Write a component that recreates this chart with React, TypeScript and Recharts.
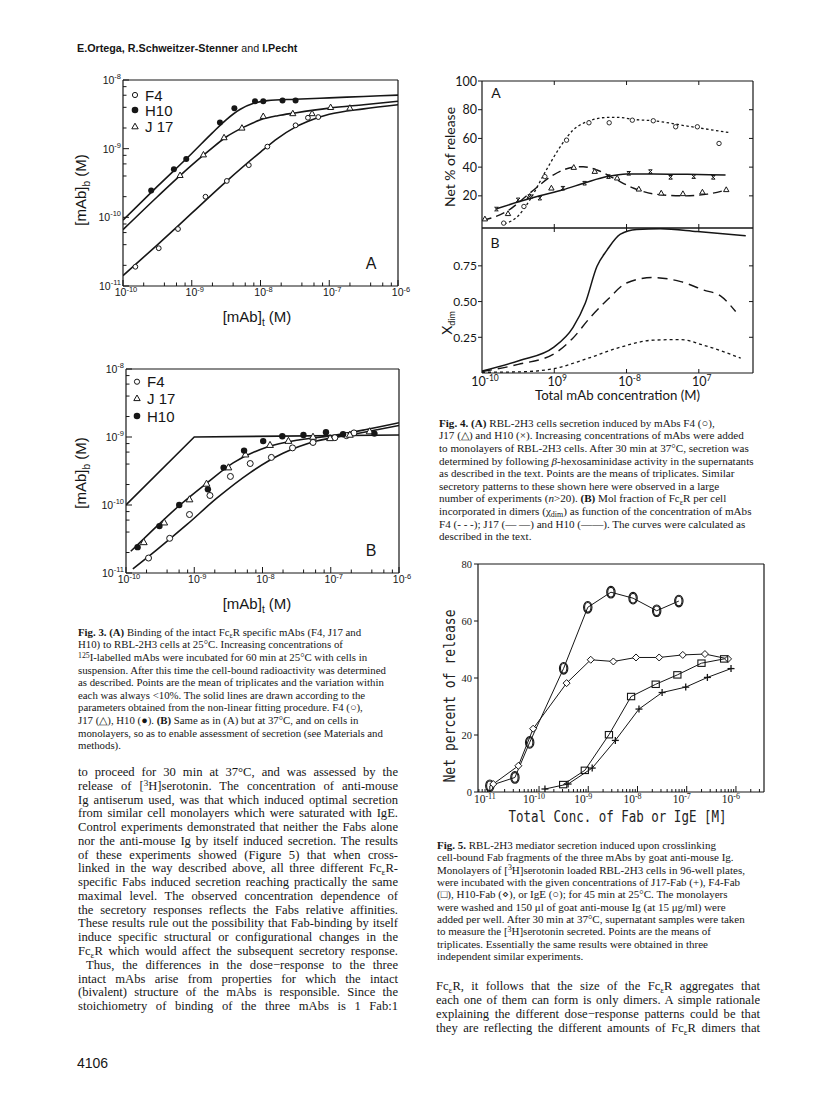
import React from 'react';
import { ComposedChart, Line, Scatter, XAxis, YAxis } from 'recharts';

type P = { x: number; y: number };

// ---------------- Fig. 3A (values are log10 of molar concentrations) ----------------
const f3aF4Pts: P[] = [
  { x: -9.82, y: -10.72 }, { x: -9.48, y: -10.45 }, { x: -9.2, y: -10.17 }, { x: -8.8, y: -9.7 },
  { x: -8.49, y: -9.47 }, { x: -8.17, y: -9.24 }, { x: -7.9, y: -8.97 }, { x: -7.49, y: -8.66 },
  { x: -7.31, y: -8.55 }, { x: -7.16, y: -8.54 },
];
const f3aH10Pts: P[] = [
  { x: -9.59, y: -9.61 }, { x: -9.26, y: -9.3 }, { x: -9.08, y: -9.15 }, { x: -8.59, y: -8.62 },
  { x: -8.38, y: -8.41 }, { x: -8.08, y: -8.31 }, { x: -7.96, y: -8.31 }, { x: -7.68, y: -8.3 },
  { x: -7.49, y: -8.3 },
];
const f3aJ17Pts: P[] = [
  { x: -9.17, y: -9.39 }, { x: -8.83, y: -9.09 }, { x: -8.53, y: -8.84 }, { x: -8.27, y: -8.7 },
  { x: -7.96, y: -8.53 }, { x: -7.53, y: -8.49 }, { x: -7.25, y: -8.49 }, { x: -6.98, y: -8.4 },
  { x: -6.7, y: -8.41 },
];
const f3aH10Fit: P[] = [
  { x: -10, y: -10.04 }, { x: -9.5, y: -9.55 }, { x: -9, y: -9.07 }, { x: -8.7, y: -8.77 },
  { x: -8.5, y: -8.58 }, { x: -8.3, y: -8.43 }, { x: -8.1, y: -8.34 }, { x: -7.9, y: -8.3 },
  { x: -7.5, y: -8.28 }, { x: -7, y: -8.26 }, { x: -6.5, y: -8.24 }, { x: -6, y: -8.22 },
];
const f3aJ17Fit: P[] = [
  { x: -10, y: -10.18 }, { x: -9.5, y: -9.7 }, { x: -9, y: -9.24 }, { x: -8.75, y: -9.03 },
  { x: -8.5, y: -8.83 }, { x: -8.25, y: -8.69 }, { x: -8, y: -8.58 }, { x: -7.75, y: -8.52 },
  { x: -7.5, y: -8.48 }, { x: -7, y: -8.41 }, { x: -6.5, y: -8.36 }, { x: -6, y: -8.31 },
];
const f3aF4Fit: P[] = [
  { x: -10, y: -10.85 }, { x: -9.5, y: -10.4 }, { x: -9, y: -9.94 }, { x: -8.5, y: -9.48 },
  { x: -8, y: -9.05 }, { x: -7.75, y: -8.85 }, { x: -7.5, y: -8.69 }, { x: -7.25, y: -8.58 },
  { x: -7, y: -8.5 }, { x: -6.5, y: -8.42 }, { x: -6, y: -8.36 },
];

// ---------------- Fig. 3B ----------------
const f3bF4Pts: P[] = [
  { x: -9.67, y: -10.78 }, { x: -9.36, y: -10.49 }, { x: -9.07, y: -10.14 }, { x: -8.77, y: -9.86 },
  { x: -8.47, y: -9.58 }, { x: -8.18, y: -9.39 }, { x: -7.87, y: -9.3 }, { x: -7.56, y: -9.16 },
  { x: -7.26, y: -9.08 }, { x: -6.94, y: -9.01 }, { x: -6.77, y: -8.98 }, { x: -6.66, y: -8.94 },
];
const f3bJ17Pts: P[] = [
  { x: -9.74, y: -10.55 }, { x: -9.44, y: -10.26 }, { x: -9.07, y: -9.92 }, { x: -8.82, y: -9.69 },
  { x: -8.5, y: -9.45 }, { x: -8.25, y: -9.26 }, { x: -7.89, y: -9.12 }, { x: -7.62, y: -9.06 },
  { x: -7.26, y: -9.0 }, { x: -7.01, y: -9.02 }, { x: -6.72, y: -8.97 }, { x: -6.43, y: -8.92 },
];
const f3bH10Pts: P[] = [
  { x: -9.83, y: -10.62 }, { x: -9.51, y: -10.31 }, { x: -9.22, y: -10.0 }, { x: -8.8, y: -9.77 },
  { x: -8.57, y: -9.45 }, { x: -8.27, y: -9.2 }, { x: -7.99, y: -9.06 }, { x: -7.71, y: -8.99 },
  { x: -7.4, y: -8.97 }, { x: -7.07, y: -8.93 }, { x: -6.82, y: -8.96 }, { x: -6.36, y: -8.95 },
];
const f3bLimit: P[] = [{ x: -10, y: -10 }, { x: -9, y: -9 }, { x: -6, y: -8.97 }];
const f3bJ17Fit: P[] = [
  { x: -9.93, y: -10.68 }, { x: -9.65, y: -10.41 }, { x: -9.21, y: -10.0 }, { x: -8.82, y: -9.68 },
  { x: -8.43, y: -9.38 }, { x: -7.94, y: -9.15 }, { x: -7.45, y: -9.04 }, { x: -6.97, y: -8.98 },
  { x: -6.48, y: -8.89 }, { x: -6, y: -8.79 },
];
const f3bF4Fit: P[] = [
  { x: -9.9, y: -10.94 }, { x: -9.55, y: -10.66 }, { x: -9.11, y: -10.29 }, { x: -8.67, y: -9.9 },
  { x: -8.19, y: -9.53 }, { x: -7.7, y: -9.24 }, { x: -7.21, y: -9.06 }, { x: -6.72, y: -8.97 },
  { x: -6, y: -8.83 },
];

// ---------------- Fig. 4A (x: log10 M, y: net % of release) ----------------
const f4aF4Pts: P[] = [
  { x: -9.7, y: 1.0 }, { x: -9.42, y: 12.6 }, { x: -9.13, y: 33.4 }, { x: -8.83, y: 58.8 },
  { x: -8.52, y: 70.9 }, { x: -8.24, y: 70.9 }, { x: -7.92, y: 72.7 }, { x: -7.63, y: 72.3 },
  { x: -7.32, y: 68.1 }, { x: -7.02, y: 68.1 }, { x: -6.72, y: 56.5 },
];
const f4aJ17Pts: P[] = [
  { x: -9.96, y: 3.8 }, { x: -9.64, y: 7.5 }, { x: -9.34, y: 19.5 }, { x: -9.04, y: 25.3 },
  { x: -8.73, y: 39.7 }, { x: -8.44, y: 36.9 }, { x: -8.13, y: 32.3 }, { x: -7.83, y: 24.6 },
  { x: -7.52, y: 21.8 }, { x: -7.22, y: 21.4 }, { x: -6.95, y: 22.5 }, { x: -6.62, y: 24.2 },
];
const f4aH10Pts: P[] = [
  { x: -9.8, y: 10.8 }, { x: -9.5, y: 17.2 }, { x: -9.34, y: 19.5 }, { x: -9.2, y: 18.4 },
  { x: -8.88, y: 25.3 }, { x: -8.58, y: 28.8 }, { x: -8.25, y: 33.4 }, { x: -7.97, y: 35.7 },
  { x: -7.67, y: 36.9 }, { x: -7.39, y: 32.9 }, { x: -7.07, y: 33.4 }, { x: -6.8, y: 32.9 },
];
const f4aF4Fit: P[] = [
  { x: -9.69, y: 0.5 }, { x: -9.5, y: 6 }, { x: -9.34, y: 17 }, { x: -9.11, y: 38 },
  { x: -8.92, y: 54 }, { x: -8.74, y: 65.8 }, { x: -8.55, y: 71.6 }, { x: -8.27, y: 74.6 },
  { x: -8.09, y: 74.6 }, { x: -7.9, y: 73.2 }, { x: -7.63, y: 72.3 }, { x: -7.16, y: 68.6 },
  { x: -6.56, y: 63.9 },
];
const f4aJ17Fit: P[] = [
  { x: -9.99, y: 2.9 }, { x: -9.66, y: 9.1 }, { x: -9.34, y: 21.8 }, { x: -9.01, y: 34.6 },
  { x: -8.74, y: 39.9 }, { x: -8.6, y: 40.3 }, { x: -8.41, y: 38 }, { x: -8.18, y: 32.3 },
  { x: -7.9, y: 25.3 }, { x: -7.63, y: 21.4 }, { x: -7.21, y: 20 }, { x: -6.88, y: 21.2 },
  { x: -6.61, y: 24.2 },
];
const f4aH10Fit: P[] = [
  { x: -9.8, y: 11 }, { x: -9.48, y: 16 }, { x: -9.2, y: 20 }, { x: -8.88, y: 24.2 },
  { x: -8.55, y: 29.5 }, { x: -8.27, y: 33.4 }, { x: -8.0, y: 35.3 }, { x: -7.63, y: 35.3 },
  { x: -7.16, y: 35 }, { x: -6.63, y: 34.6 },
];

// ---------------- Fig. 4B (x: log10 M, y: mol fraction in dimers) ----------------
const f4bH10: P[] = [
  { x: -10, y: 0.013 }, { x: -9.48, y: 0.088 }, { x: -9.01, y: 0.18 }, { x: -8.74, y: 0.32 },
  { x: -8.57, y: 0.49 }, { x: -8.41, y: 0.745 }, { x: -8.27, y: 0.86 }, { x: -8.09, y: 0.97 },
  { x: -7.86, y: 1.005 }, { x: -7.53, y: 1.01 }, { x: -7.02, y: 0.99 }, { x: -6.35, y: 0.96 },
];
const f4bJ17: P[] = [
  { x: -10, y: 0.01 }, { x: -9.5, y: 0.06 }, { x: -9, y: 0.135 }, { x: -8.75, y: 0.24 },
  { x: -8.5, y: 0.39 }, { x: -8.25, y: 0.52 }, { x: -8.0, y: 0.63 }, { x: -7.65, y: 0.668 },
  { x: -7.25, y: 0.64 }, { x: -6.93, y: 0.58 }, { x: -6.7, y: 0.54 }, { x: -6.49, y: 0.43 },
];
const f4bF4: P[] = [
  { x: -10, y: 0.005 }, { x: -9.48, y: 0.008 }, { x: -9.01, y: 0.03 }, { x: -8.55, y: 0.1 },
  { x: -8.09, y: 0.18 }, { x: -7.63, y: 0.23 }, { x: -7.25, y: 0.234 }, { x: -6.93, y: 0.194 },
  { x: -6.42, y: 0.104 },
];

// ---------------- Fig. 5 (x: log10 M, y: net percent of release) ----------------
const f5IgE: P[] = [
  { x: -11.0, y: 2.2 }, { x: -10.49, y: 5.1 }, { x: -10.19, y: 17.4 }, { x: -9.5, y: 43.4 },
  { x: -9.01, y: 64.8 }, { x: -8.54, y: 70.1 }, { x: -8.09, y: 68 }, { x: -7.61, y: 63.6 },
  { x: -7.16, y: 67 },
];
const f5H10Fab: P[] = [
  { x: -10.93, y: 2.8 }, { x: -10.42, y: 9.2 }, { x: -10.12, y: 22.2 }, { x: -9.44, y: 38.2 },
  { x: -8.95, y: 46.4 }, { x: -8.49, y: 45.8 }, { x: -8.03, y: 47.2 }, { x: -7.56, y: 47.2 },
  { x: -7.08, y: 48.1 }, { x: -6.63, y: 48.4 }, { x: -6.16, y: 46.7 },
];
const f5F4Fab: P[] = [
  { x: -9.51, y: 2.6 }, { x: -9.07, y: 7.6 }, { x: -8.58, y: 20.1 }, { x: -8.13, y: 33.5 },
  { x: -7.63, y: 37.8 }, { x: -7.19, y: 41.1 }, { x: -6.7, y: 45.2 }, { x: -6.24, y: 46.7 },
];
const f5J17Fab: P[] = [
  { x: -9.88, y: 1.05 }, { x: -9.41, y: 2.8 }, { x: -8.92, y: 8.4 }, { x: -8.45, y: 18.1 },
  { x: -7.97, y: 29.1 }, { x: -7.5, y: 34.9 }, { x: -7.02, y: 36.8 }, { x: -6.58, y: 40.2 },
  { x: -6.1, y: 43.3 },
];

// ---------------- ticks ----------------
const f3XDecades = [-10, -9, -8, -7, -6];
const f3YDecades = [-11, -10, -9, -8];
const f3MinorMult = [2, 4, 6, 8];
const f4XTicks = [-10, -9, -8, -7];
const f4XTickSup = ['-10', '9', '-8', '7'];
const f4aYTicks = [20, 40, 60, 80, 100];
const f4aRightTicks = [20, 40, 60, 80];
const f4bYTicks = [0.25, 0.5, 0.75];
const f4bYLabels = ['0.25', '0.50', '0.75'];
const f5XDecades = [-12, -11, -10, -9, -8, -7, -6];
const f5MinorMult = [2, 3, 4, 5, 6, 7, 8, 9];
const f5YTicks = [0, 20, 40, 60, 80];

const withMinors = (decades: number[], mults: number[], lo: number, hi: number) => {
  const out: number[] = [];
  decades.forEach((d) => {
    if (d >= lo - 1e-9 && d <= hi + 1e-9) out.push(d);
    mults.forEach((m) => {
      const v = d + Math.log10(m);
      if (v > lo && v < hi) out.push(v);
    });
  });
  return out;
};

const INK = '#161616';
const SERIF = '"Liberation Serif", "Times New Roman", serif';
const SANS = '"Liberation Sans", Arial, sans-serif';
const GEO = 'Lato, "Open Sans", sans-serif';
const MONO = '"DejaVu Sans Mono", monospace';
const isMajor = (v: number) => Math.abs(v - Math.round(v)) < 1e-6;

// ---------------- tick renderers ----------------
const Fig3XTick = (p: any) => {
  const v = p.payload.value;
  const maj = isMajor(v);
  return (
    <g>
      <line x1={p.x} x2={p.x} y1={p.y} y2={p.y - (maj ? 6 : 3.5)} stroke={INK} strokeWidth={1} />
      {maj && (
        <text x={p.x + 3} y={p.y + 10} textAnchor="middle" fontFamily={SANS} fontSize={10.5} fill={INK}>
          10<tspan dy={-4.5} fontSize={7.5}>{String(Math.round(v))}</tspan>
        </text>
      )}
    </g>
  );
};
const Fig3YTick = (p: any) => {
  const v = p.payload.value;
  const maj = isMajor(v);
  return (
    <g>
      <line x1={p.x} x2={p.x + (maj ? 6 : 3.5)} y1={p.y} y2={p.y} stroke={INK} strokeWidth={1} />
      {maj && (
        <text x={p.x - 2} y={p.y + 4} textAnchor="end" fontFamily={SANS} fontSize={10.5} fill={INK}>
          10<tspan dy={-5} fontSize={7.5}>{String(Math.round(v))}</tspan>
        </text>
      )}
    </g>
  );
};
const Fig4BXTick = (p: any) => {
  const v = p.payload.value;
  const i = f4XTicks.findIndex((t) => Math.abs(t - v) < 1e-6);
  return (
    <g>
      {v > -9.99 && <line x1={p.x} x2={p.x} y1={p.y} y2={p.y - 4} stroke={INK} strokeWidth={1} />}
      <text x={p.x + 3} y={p.y + 13} textAnchor="middle" fontFamily={GEO} fontSize={12.5} fill={INK}>
        10<tspan dy={-5} fontSize={8.5}>{f4XTickSup[i]}</tspan>
      </text>
    </g>
  );
};
const InTickUp = (p: any) =>
  p.payload.value > -9.99 ? <line x1={p.x} x2={p.x} y1={p.y} y2={p.y - 4} stroke={INK} strokeWidth={1} /> : <g />;
const InTickDown = (p: any) =>
  p.payload.value > -9.99 ? <line x1={p.x} x2={p.x} y1={p.y} y2={p.y + 4} stroke={INK} strokeWidth={1} /> : <g />;
const InTickLeft = (p: any) => <line x1={p.x} x2={p.x - 4} y1={p.y} y2={p.y} stroke={INK} strokeWidth={1} />;
const Fig4AYTick = (p: any) => (
  <g>
    <line x1={p.x} x2={p.x - 4} y1={p.y} y2={p.y} stroke={INK} strokeWidth={1} />
    <text x={p.x - 5} y={p.y + 4.5} textAnchor="end" fontFamily={GEO} fontSize={12.5} fill={INK}>
      {String(p.payload.value)}
    </text>
  </g>
);
const Fig4BYTick = (p: any) => {
  const i = f4bYTicks.findIndex((t) => Math.abs(t - p.payload.value) < 1e-6);
  return (
    <g>
      <line x1={p.x} x2={p.x - 4} y1={p.y} y2={p.y} stroke={INK} strokeWidth={1} />
      <text x={p.x - 5} y={p.y + 4.5} textAnchor="end" fontFamily={GEO} fontSize={12} fill={INK}>
        {f4bYLabels[i]}
      </text>
    </g>
  );
};
const Fig5XTick = (p: any) => {
  const v = p.payload.value;
  const maj = isMajor(v);
  return (
    <g>
      <line x1={p.x} x2={p.x} y1={p.y} y2={p.y - (maj ? 6 : 3)} stroke={INK} strokeWidth={1} />
      {maj && (
        <text x={p.x - 5} y={p.y + 11} textAnchor="middle" fontFamily={SERIF} fontSize={11.5} fill={INK}>
          10<tspan dy={-4.5} fontSize={8}>{String(Math.round(v))}</tspan>
        </text>
      )}
    </g>
  );
};
const Fig5YTick = (p: any) => (
  <g>
    <line x1={p.x} x2={p.x - 4} y1={p.y} y2={p.y} stroke={INK} strokeWidth={1} />
    <text x={p.x - 6} y={p.y + 3.5} textAnchor="end" fontFamily={SERIF} fontSize={10.5} fill={INK}>
      {String(p.payload.value)}
    </text>
  </g>
);

// ---------------- marker shapes ----------------
const openCircle = (r: number, sw = 1) => (p: any) => (
  <circle cx={p.cx} cy={p.cy} r={r} fill="#fff" stroke={INK} strokeWidth={sw} />
);
const dotShape = (r: number) => (p: any) => <circle cx={p.cx} cy={p.cy} r={r} fill={INK} />;
const triShape = (s: number) => (p: any) => (
  <path
    d={`M${p.cx},${p.cy - s} L${p.cx + s * 0.9},${p.cy + s * 0.6} L${p.cx - s * 0.9},${p.cy + s * 0.6} Z`}
    fill="#fff"
    stroke={INK}
    strokeWidth={1}
  />
);
const xShape = (s: number) => (p: any) => (
  <g stroke={INK} strokeWidth={1}>
    <line x1={p.cx - s} y1={p.cy - s} x2={p.cx + s} y2={p.cy + s} />
    <line x1={p.cx - s} y1={p.cy + s} x2={p.cx + s} y2={p.cy - s} />
    <line x1={p.cx - s} y1={p.cy - s} x2={p.cx + s} y2={p.cy - s} />
    <line x1={p.cx - s} y1={p.cy + s} x2={p.cx + s} y2={p.cy + s} />
  </g>
);
const ovalShape = (p: any) => (
  <g fill="none" stroke={INK} strokeWidth={1.1}>
    <ellipse cx={p.cx} cy={p.cy} rx={4.2} ry={5.8} />
    <ellipse cx={p.cx} cy={p.cy} rx={3.2} ry={4.8} />
  </g>
);
const diamondShape = (p: any) => (
  <path
    d={`M${p.cx},${p.cy - 3.5} L${p.cx + 3.5},${p.cy} L${p.cx},${p.cy + 3.5} L${p.cx - 3.5},${p.cy} Z`}
    fill="#fff"
    stroke={INK}
    strokeWidth={1}
  />
);
const squareShape = (p: any) => (
  <rect x={p.cx - 3.6} y={p.cy - 3.2} width={7.2} height={6.4} fill="none" stroke={INK} strokeWidth={1.1} />
);
const plusShape = (p: any) => (
  <g stroke={INK} strokeWidth={1.3}>
    <line x1={p.cx - 3.5} y1={p.cy} x2={p.cx + 3.5} y2={p.cy} />
    <line x1={p.cx} y1={p.cy - 3.5} x2={p.cx} y2={p.cy + 3.5} />
  </g>
);

const axisLine = { stroke: INK, strokeWidth: 1.2 };

// Each axis takes 1px; margins are set so the plot area lands on (x, y, w, h).
function Plot({ x, y, w, h, children }: any) {
  const ml = 60;
  const mt = 12;
  const mr = 14;
  const mb = 30;
  return (
    <div style={{ position: 'absolute', left: x - ml, top: y - mt }}>
      <ComposedChart
        width={w + ml + mr}
        height={h + mt + mb}
        margin={{ top: mt - 1, right: mr - 1, bottom: mb - 1, left: ml - 1 }}
      >
        {children}
      </ComposedChart>
    </div>
  );
}

const f3XTicks = withMinors(f3XDecades, f3MinorMult, -10, -6);
const f3YTicks = withMinors(f3YDecades, f3MinorMult, -11, -8);
const f5XTicks = withMinors(f5XDecades, f5MinorMult, -11.24, -5.43);

function Fig3Panel({ x, y, w, h, pts, fits }: any) {
  return (
    <Plot x={x} y={y} w={w} h={h}>
      <XAxis dataKey="x" type="number" domain={[-10, -6]} allowDataOverflow ticks={f3XTicks} interval={0}
        height={1} tickSize={0} tickMargin={0} tickLine={false} axisLine={axisLine} tick={Fig3XTick} />
      <XAxis xAxisId="top" orientation="top" dataKey="x" type="number" domain={[-10, -6]} allowDataOverflow
        height={1} tick={false} tickLine={false} axisLine={axisLine} />
      <YAxis dataKey="y" type="number" domain={[-11, -8]} allowDataOverflow ticks={f3YTicks} interval={0}
        width={1} tickSize={0} tickMargin={0} tickLine={false} axisLine={axisLine} tick={Fig3YTick} />
      <YAxis yAxisId="right" orientation="right" type="number" domain={[-11, -8]} allowDataOverflow
        width={1} tick={false} tickLine={false} axisLine={axisLine} />
      {fits.map((f: any, i: number) => (
        <Line key={'f' + i} data={f.d} dataKey="y" type={f.t || 'monotone'} dot={false} stroke={INK}
          strokeWidth={1.6} isAnimationActive={false} />
      ))}
      {pts.map((s: any, i: number) => (
        <Scatter key={'s' + i} data={s.d} dataKey="y" shape={s.shape} isAnimationActive={false} />
      ))}
    </Plot>
  );
}

// ---------------- text helpers ----------------
const Sb = ({ children }: any) => (
  <span style={{ fontSize: '0.72em', position: 'relative', top: '0.3em' }}>{children}</span>
);
const Sp = ({ children }: any) => (
  <span style={{ fontSize: '0.72em', position: 'relative', top: '-0.4em' }}>{children}</span>
);
const FcR = () => (
  <>
    Fc<Sb>ε</Sb>R
  </>
);

type TL = { c: React.ReactNode; j?: boolean; ind?: number };
function Lines({ x, y, dy, w, size, lines }: { x: number; y: number; dy: number; w: number; size: number; lines: TL[] }) {
  return (
    <>
      {lines.map((l, i) => (
        <div
          key={i}
          style={{
            position: 'absolute',
            left: x + (l.ind || 0),
            top: y + i * dy - dy / 2,
            width: w - (l.ind || 0),
            height: dy,
            lineHeight: `${dy}px`,
            fontSize: size,
            fontFamily: SERIF,
            color: INK,
            textAlign: l.j ? 'justify' : 'left',
            textAlignLast: l.j ? 'justify' : 'left',
            whiteSpace: l.j ? 'normal' : 'nowrap',
          } as any}
        >
          {l.c}
        </div>
      ))}
    </>
  );
}

const fig3Caption: TL[] = [
  { c: <><b>Fig. 3.</b> <b>(A)</b> Binding of the intact <FcR /> specific mAbs (F4, J17 and</> },
  { c: <>H10) to RBL-2H3 cells at 25°C. Increasing concentrations of</> },
  { c: <><Sp>125</Sp>I-labelled mAbs were incubated for 60 min at 25°C with cells in</> },
  { c: <>suspension. After this time the cell-bound radioactivity was determined</> },
  { c: <>as described. Points are the mean of triplicates and the variation within</> },
  { c: <>each was always &lt;10%. The solid lines are drawn according to the</> },
  { c: <>parameters obtained from the non-linear fitting procedure. F4 (○),</> },
  { c: <>J17 (△), H10 (●). <b>(B)</b> Same as in (A) but at 37°C, and on cells in</> },
  { c: <>monolayers, so as to enable assessment of secretion (see Materials and</> },
  { c: <>methods).</> },
];
const leftBody: TL[] = [
  { j: true, c: <>to proceed for 30 min at 37°C, and was assessed by the</> },
  { j: true, c: <>release of [<Sp>3</Sp>H]serotonin. The concentration of anti-mouse</> },
  { j: true, c: <>Ig antiserum used, was that which induced optimal secretion</> },
  { j: true, c: <>from similar cell monolayers which were saturated with IgE.</> },
  { j: true, c: <>Control experiments demonstrated that neither the Fabs alone</> },
  { j: true, c: <>nor the anti-mouse Ig by itself induced secretion. The results</> },
  { j: true, c: <>of these experiments showed (Figure 5) that when cross-</> },
  { j: true, c: <>linked in the way described above, all three different <FcR />-</> },
  { j: true, c: <>specific Fabs induced secretion reaching practically the same</> },
  { j: true, c: <>maximal level. The observed concentration dependence of</> },
  { j: true, c: <>the secretory responses reflects the Fabs relative affinities.</> },
  { j: true, c: <>These results rule out the possibility that Fab-binding by itself</> },
  { j: true, c: <>induce specific structural or configurational changes in the</> },
  { j: true, c: <><FcR /> which would affect the subsequent secretory response.</> },
  { j: true, ind: 8, c: <>Thus, the differences in the dose−response to the three</> },
  { j: true, c: <>intact mAbs arise from properties for which the intact</> },
  { j: true, c: <>(bivalent) structure of the mAbs is responsible. Since the</> },
  { j: true, c: <>stoichiometry of binding of the three mAbs is 1 Fab:1</> },
];
const fig4Caption: TL[] = [
  { c: <><b>Fig. 4.</b> <b>(A)</b> RBL-2H3 cells secretion induced by mAbs F4 (○),</> },
  { c: <>J17 (△) and H10 (×). Increasing concentrations of mAbs were added</> },
  { c: <>to monolayers of RBL-2H3 cells. After 30 min at 37°C, secretion was</> },
  { c: <>determined by following <i>β</i>-hexosaminidase activity in the supernatants</> },
  { c: <>as described in the text. Points are the means of triplicates. Similar</> },
  { c: <>secretory patterns to these shown here were observed in a large</> },
  { c: <>number of experiments (<i>n</i>&gt;20). <b>(B)</b> Mol fraction of <FcR /> per cell</> },
  { c: <>incorporated in dimers (χ<Sb>dim</Sb>) as function of the concentration of mAbs</> },
  { c: <>F4 (- - -); J17 (— —) and H10 (——). The curves were calculated as</> },
  { c: <>described in the text.</> },
];
const fig5Caption: TL[] = [
  { c: <><b>Fig. 5.</b> RBL-2H3 mediator secretion induced upon crosslinking</> },
  { c: <>cell-bound Fab fragments of the three mAbs by goat anti-mouse Ig.</> },
  { c: <>Monolayers of [<Sp>3</Sp>H]serotonin loaded RBL-2H3 cells in 96-well plates,</> },
  { c: <>were incubated with the given concentrations of J17-Fab (+), F4-Fab</> },
  { c: <>(□), H10-Fab (⋄), or IgE (○); for 45 min at 25°C. The monolayers</> },
  { c: <>were washed and 150 μl of goat anti-mouse Ig (at 15 μg/ml) were</> },
  { c: <>added per well. After 30 min at 37°C, supernatant samples were taken</> },
  { c: <>to measure the [<Sp>3</Sp>H]serotonin secreted. Points are the means of</> },
  { c: <>triplicates. Essentially the same results were obtained in three</> },
  { c: <>independent similar experiments.</> },
];
const rightBody: TL[] = [
  { j: true, c: <><FcR />, it follows that the size of the <FcR /> aggregates that</> },
  { j: true, c: <>each one of them can form is only dimers. A simple rationale</> },
  { j: true, c: <>explaining the different dose−response patterns could be that</> },
  { j: true, c: <>they are reflecting the different amounts of <FcR /> dimers that</> },
];

function Legend3({ x, y0, items }: any) {
  return (
    <g>
      {items.map((it: any, i: number) => {
        const cy = y0[i];
        let m: React.ReactNode = null;
        if (it.k === 'o') m = <circle cx={x} cy={cy} r={2.6} fill="#fff" stroke={INK} strokeWidth={1} />;
        if (it.k === 'd') m = <circle cx={x} cy={cy} r={3.3} fill={INK} />;
        if (it.k === 't')
          m = <path d={`M${x},${cy - 3.3} L${x + 3.2},${cy + 2.3} L${x - 3.2},${cy + 2.3} Z`} fill="#fff" stroke={INK} strokeWidth={1} />;
        return (
          <g key={i}>
            {m}
            <text x={x + 10} y={cy + 5.5} fontFamily={SANS} fontSize={15} fill={INK}>
              {it.t}
            </text>
          </g>
        );
      })}
    </g>
  );
}

export default function App() {
  return (
    <div style={{ position: 'absolute', left: 0, top: 0, width: 816, height: 1093, background: '#fff', overflow: 'hidden' }}>
      {/* Fig 3A */}
      <Fig3Panel
        x={123} y={80} w={275} h={206}
        fits={[{ d: f3aH10Fit }, { d: f3aJ17Fit }, { d: f3aF4Fit }]}
        pts={[
          { d: f3aF4Pts, shape: openCircle(2.4) },
          { d: f3aH10Pts, shape: dotShape(3) },
          { d: f3aJ17Pts, shape: triShape(3.4) },
        ]}
      />
      {/* Fig 3B */}
      <Fig3Panel
        x={126} y={369} w={273} h={204}
        fits={[{ d: f3bLimit, t: 'linear' }, { d: f3bJ17Fit }, { d: f3bF4Fit }]}
        pts={[
          { d: f3bF4Pts, shape: openCircle(3) },
          { d: f3bJ17Pts, shape: triShape(3.8) },
          { d: f3bH10Pts, shape: dotShape(3.2) },
        ]}
      />

      {/* Fig 4A */}
      <Plot x={482} y={81} w={271} h={147}>
        <XAxis dataKey="x" type="number" domain={[-10, -6.25]} allowDataOverflow ticks={f4XTicks} interval={0}
          height={1} tickSize={0} tickMargin={0} tickLine={false} axisLine={axisLine} tick={InTickUp} />
        <XAxis xAxisId="top" orientation="top" dataKey="x" type="number" domain={[-10, -6.25]} allowDataOverflow
          ticks={f4XTicks} interval={0} height={1} tickSize={0} tickMargin={0} tickLine={false} axisLine={axisLine} tick={InTickDown} />
        <YAxis dataKey="y" type="number" domain={[-2.4, 100]} allowDataOverflow ticks={f4aYTicks} interval={0}
          width={1} tickSize={0} tickMargin={0} tickLine={false} axisLine={axisLine} tick={Fig4AYTick} />
        <YAxis yAxisId="right" orientation="right" type="number" domain={[-2.4, 100]} allowDataOverflow
          ticks={f4aRightTicks} interval={0} width={1} tickSize={0} tickMargin={0} tickLine={false} axisLine={axisLine} tick={InTickLeft} />
        <Line data={f4aF4Fit} dataKey="y" type="monotone" dot={false} stroke={INK} strokeWidth={1.3} strokeDasharray="2.5 2.5" isAnimationActive={false} />
        <Line data={f4aJ17Fit} dataKey="y" type="monotone" dot={false} stroke={INK} strokeWidth={1.4} strokeDasharray="9 5" isAnimationActive={false} />
        <Line data={f4aH10Fit} dataKey="y" type="monotone" dot={false} stroke={INK} strokeWidth={1.5} isAnimationActive={false} />
        <Scatter data={f4aF4Pts} dataKey="y" shape={openCircle(2.2, 0.9)} isAnimationActive={false} />
        <Scatter data={f4aJ17Pts} dataKey="y" shape={triShape(3)} isAnimationActive={false} />
        <Scatter data={f4aH10Pts} dataKey="y" shape={xShape(1.8)} isAnimationActive={false} />
      </Plot>
      {/* Fig 4B */}
      <Plot x={482} y={228} w={271} h={145}>
        <XAxis dataKey="x" type="number" domain={[-10, -6.25]} allowDataOverflow ticks={f4XTicks} interval={0}
          height={1} tickSize={0} tickMargin={0} tickLine={false} axisLine={axisLine} tick={Fig4BXTick} />
        <XAxis xAxisId="top" orientation="top" dataKey="x" type="number" domain={[-10, -6.25]} allowDataOverflow
          ticks={f4XTicks} interval={0} height={1} tickSize={0} tickMargin={0} tickLine={false} axisLine={axisLine} tick={InTickDown} />
        <YAxis dataKey="y" type="number" domain={[0, 1.015]} allowDataOverflow ticks={f4bYTicks} interval={0}
          width={1} tickSize={0} tickMargin={0} tickLine={false} axisLine={axisLine} tick={Fig4BYTick} />
        <YAxis yAxisId="right" orientation="right" type="number" domain={[0, 1.015]} allowDataOverflow
          ticks={f4bYTicks} interval={0} width={1} tickSize={0} tickMargin={0} tickLine={false} axisLine={axisLine} tick={InTickLeft} />
        <Line data={f4bF4} dataKey="y" type="monotone" dot={false} stroke={INK} strokeWidth={1.3} strokeDasharray="3 3" isAnimationActive={false} />
        <Line data={f4bJ17} dataKey="y" type="monotone" dot={false} stroke={INK} strokeWidth={1.4} strokeDasharray="10 6" isAnimationActive={false} />
        <Line data={f4bH10} dataKey="y" type="monotone" dot={false} stroke={INK} strokeWidth={1.5} isAnimationActive={false} />
      </Plot>

      {/* Fig 5 */}
      <Plot x={478} y={564} w={286} h={228}>
        <XAxis dataKey="x" type="number" domain={[-11.24, -5.43]} allowDataOverflow ticks={f5XTicks} interval={0}
          height={1} tickSize={0} tickMargin={0} tickLine={false} axisLine={axisLine} tick={Fig5XTick} />
        <XAxis xAxisId="top" orientation="top" dataKey="x" type="number" domain={[-11.24, -5.43]} allowDataOverflow
          height={1} tick={false} tickLine={false} axisLine={axisLine} />
        <YAxis dataKey="y" type="number" domain={[0, 80]} allowDataOverflow ticks={f5YTicks} interval={0}
          width={1} tickSize={0} tickMargin={0} tickLine={false} axisLine={axisLine} tick={Fig5YTick} />
        <YAxis yAxisId="right" orientation="right" type="number" domain={[0, 80]} allowDataOverflow
          width={1} tick={false} tickLine={false} axisLine={axisLine} />
        <Line data={f5IgE} dataKey="y" type="linear" dot={false} stroke={INK} strokeWidth={1} isAnimationActive={false} />
        <Line data={f5H10Fab} dataKey="y" type="linear" dot={false} stroke={INK} strokeWidth={1} isAnimationActive={false} />
        <Line data={f5F4Fab} dataKey="y" type="linear" dot={false} stroke={INK} strokeWidth={1} isAnimationActive={false} />
        <Line data={f5J17Fab} dataKey="y" type="linear" dot={false} stroke={INK} strokeWidth={1} isAnimationActive={false} />
        <Scatter data={f5IgE} dataKey="y" shape={ovalShape} isAnimationActive={false} />
        <Scatter data={f5H10Fab} dataKey="y" shape={diamondShape} isAnimationActive={false} />
        <Scatter data={f5F4Fab} dataKey="y" shape={squareShape} isAnimationActive={false} />
        <Scatter data={f5J17Fab} dataKey="y" shape={plusShape} isAnimationActive={false} />
      </Plot>

      {/* Annotation overlay */}
      <svg width={816} height={1093} style={{ position: 'absolute', left: 0, top: 0, pointerEvents: 'none' }}>
        <g transform="translate(77,52) scale(0.935,1)">
          <text x={0} y={0} fontFamily={SANS} fontSize={11.5} fill={INK}>
            <tspan fontWeight="bold">E.Ortega, R.Schweitzer-Stenner</tspan>
            <tspan>{' and '}</tspan>
            <tspan fontWeight="bold">I.Pecht</tspan>
          </text>
        </g>
        <text x={77} y={1068} fontFamily={SANS} fontSize={14} fill={INK}>4106</text>

        {/* Fig 3A labels */}
        <Legend3 x={135} y0={[95, 110, 126.5]} items={[{ k: 'o', t: 'F4' }, { k: 'd', t: 'H10' }, { k: 't', t: 'J 17' }]} />
        <text x={371} y={269} textAnchor="middle" fontFamily={SANS} fontSize={16} fill={INK}>A</text>
        <text transform="translate(86,190) rotate(-90)" textAnchor="middle" fontFamily={SANS} fontSize={15} fill={INK}>
          [mAb]<tspan dy={4} fontSize={10}>b</tspan><tspan dy={-4}> (M)</tspan>
        </text>
        <text x={257} y={322} textAnchor="middle" fontFamily={SANS} fontSize={15} fill={INK}>
          [mAb]<tspan dy={4} fontSize={10}>t</tspan><tspan dy={-4}> (M)</tspan>
        </text>

        {/* Fig 3B labels */}
        <Legend3 x={137} y0={[381.7, 398.3, 416]} items={[{ k: 'o', t: 'F4' }, { k: 't', t: 'J 17' }, { k: 'd', t: 'H10' }]} />
        <text x={371} y={556} textAnchor="middle" fontFamily={SANS} fontSize={16} fill={INK}>B</text>
        <text transform="translate(86,473) rotate(-90)" textAnchor="middle" fontFamily={SANS} fontSize={15} fill={INK}>
          [mAb]<tspan dy={4} fontSize={10}>b</tspan><tspan dy={-4}> (M)</tspan>
        </text>
        <text x={257} y={609} textAnchor="middle" fontFamily={SANS} fontSize={15} fill={INK}>
          [mAb]<tspan dy={4} fontSize={10}>t</tspan><tspan dy={-4}> (M)</tspan>
        </text>

        {/* Fig 4 labels */}
        <text x={496} y={98} textAnchor="middle" fontFamily={GEO} fontSize={14} fill={INK}>A</text>
        <text x={495} y={248} textAnchor="middle" fontFamily={GEO} fontSize={14} fill={INK}>B</text>
        <text transform="translate(455,157) rotate(-90)" textAnchor="middle" fontFamily={GEO} fontSize={13} fill={INK}
          textLength={100} lengthAdjust="spacingAndGlyphs">Net % of release</text>
        <text transform="translate(452,323) rotate(-90)" textAnchor="middle" fontFamily={GEO} fontSize={14} fill={INK}>
          X<tspan dy={3} fontSize={9}>dim</tspan>
        </text>
        <text x={617.5} y={400} textAnchor="middle" fontFamily={GEO} fontSize={13} fill={INK}
          textLength={165} lengthAdjust="spacingAndGlyphs">Total mAb concentration (M)</text>

        {/* Fig 5 labels */}
        <text transform="translate(455,696) rotate(-90)" textAnchor="middle" fontFamily={MONO} fontSize={15} fill="#222"
          textLength={173} lengthAdjust="spacingAndGlyphs">Net percent of release</text>
        <text x={617.5} y={822} textAnchor="middle" fontFamily={MONO} fontSize={15} fill="#222"
          textLength={218} lengthAdjust="spacingAndGlyphs">Total Conc. of Fab or IgE [M]</text>
      </svg>

      {/* Text blocks */}
      <Lines x={78} y={632} dy={12.6} w={322} size={10.8} lines={fig3Caption} />
      <Lines x={78} y={773} dy={13.76} w={320} size={12.6} lines={leftBody} />
      <Lines x={439} y={423} dy={12.6} w={322} size={11.1} lines={fig4Caption} />
      <Lines x={437} y={845} dy={12.35} w={322} size={11} lines={fig5Caption} />
      <Lines x={436} y={986} dy={14} w={324} size={12.6} lines={rightBody} />
    </div>
  );
}
